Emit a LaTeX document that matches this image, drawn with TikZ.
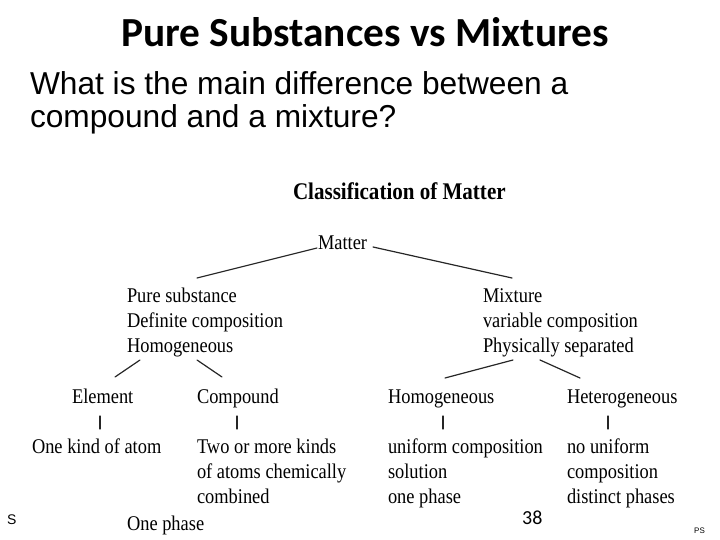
\documentclass[tikz,border=0pt]{standalone}
\usepackage{fontspec}
\setmainfont{Liberation Serif}
\newfontfamily\titlefont{Carlito}
\newfontfamily\qfont{Liberation Sans}
\newfontfamily\dfont[FakeStretch=0.88]{Liberation Serif}
\begin{document}
\begin{tikzpicture}[x=1bp,y=-1bp,
  lbl/.style={inner sep=0, outer sep=0, anchor=base west, font=\dfont\fontsize{21}{24}\selectfont},
  qtext/.style={inner sep=0, outer sep=0, anchor=base west, font=\qfont\fontsize{31.8}{36}\selectfont},
  link/.style={line width=1.2bp, draw=black!85, line cap=round}]
\useasboundingbox (0,0) rectangle (720,540);
% title and question
\node[inner sep=0, anchor=base, font=\titlefont\bfseries\fontsize{41.5}{44}\selectfont] (title) at (365,47) {Pure Substances vs Mixtures};
\node[qtext] (q1) at (30,95) {What is the main difference between a};
\node[qtext] (q2) at (30,128) {compound and a mixture?};
% diagram
\node[lbl, font=\dfont\bfseries\fontsize{24}{26}\selectfont] (cls) at (293,200) {Classification of Matter};
\node[lbl] (matter) at (318,250) {Matter};
\node[lbl] (ps1) at (127,302) {Pure substance};
\node[lbl] (ps2) at (127,327) {Definite composition};
\node[lbl] (ps3) at (127,352) {Homogeneous};
\node[lbl] (mx1) at (483,302) {Mixture};
\node[lbl] (mx2) at (483,327) {variable composition};
\node[lbl] (mx3) at (483,352) {Physically separated};
\node[lbl] (el) at (72,403) {Element};
\node[lbl] (cp) at (197,403) {Compound};
\node[lbl] (ho) at (388,403) {Homogeneous};
\node[lbl] (he) at (567,403) {Heterogeneous};
\node[lbl] (el1) at (32,453) {One kind of atom};
\node[lbl] (cp1) at (197,453) {Two or more kinds};
\node[lbl] (cp2) at (197,478) {of atoms chemically};
\node[lbl] (cp3) at (197,503) {combined};
\node[lbl] (ho1) at (388,453) {uniform composition};
\node[lbl] (ho2) at (388,478) {solution};
\node[lbl] (ho3) at (388,503) {one phase};
\node[lbl] (he1) at (567,453) {no uniform};
\node[lbl] (he2) at (567,478) {composition};
\node[lbl] (he3) at (567,503) {distinct phases};
\node[lbl] (ph) at (127,530) {One phase};
% footer bits
\node[inner sep=0, anchor=base west, font=\titlefont\fontsize{20}{22}\selectfont] (num) at (522,524) {38};
\node[inner sep=0, anchor=base west, font=\qfont\fontsize{14}{16}\selectfont] (s) at (7,524) {S};
\node[inner sep=0, anchor=base west, font=\qfont\fontsize{8}{10}\selectfont] (psmark) at (694,533) {PS};
% connector end points
\coordinate (mL) at (317,248);
\coordinate (mR) at (373,247);
\coordinate (psT) at (197,278);
\coordinate (mxT) at (512,278);
\coordinate (psBL) at (140,360);
\coordinate (psBR) at (197,360);
\coordinate (elT) at (115,377);
\coordinate (cpT) at (222,377);
\coordinate (mxBL) at (513,360);
\coordinate (mxBR) at (540,360);
\coordinate (hoT) at (445,378);
\coordinate (heT) at (580,378);
\draw[link] (mL) -- (psT);
\draw[link] (mR) -- (mxT);
\draw[link] (psBL) -- (elT);
\draw[link] (psBR) -- (cpT);
\draw[link] (mxBL) -- (hoT);
\draw[link] (mxBR) -- (heT);
\draw[link] (100,416) coordinate (elA) -- (100,429) coordinate (elB);
\draw[link] (237,416) coordinate (cpA) -- (237,429) coordinate (cpB);
\draw[link] (443,416) coordinate (hoA) -- (443,429) coordinate (hoB);
\draw[link] (608,416) coordinate (heA) -- (608,429) coordinate (heB);
\end{tikzpicture}
\end{document}
